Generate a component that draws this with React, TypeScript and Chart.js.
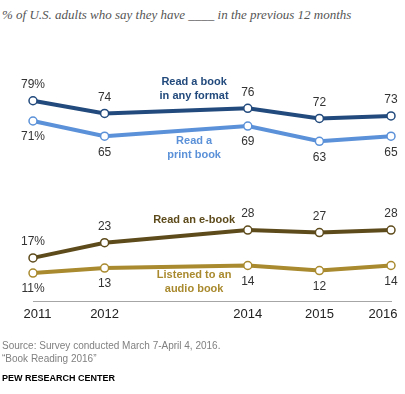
import React, { useEffect, useRef } from "react";
import { Chart, registerables } from "chart.js";

Chart.register(...registerables);

const years = [2011, 2012, 2014, 2015, 2016];
const tickLabels = ["2011", "2012", "2014", "2015", "2016"];
const anyFormat = [79, 74, 76, 72, 73];
const printBook = [71, 65, 69, 63, 65];
const eBook = [17, 23, 28, 27, 28];
const audioBook = [11, 13, 14, 12, 14];

const seriesNames = [
  ["Read a book", "in any format"],
  ["Read a", "print book"],
  ["Read an e-book"],
  ["Listened to an", "audio book"],
];

const NAVY = "#224a7c";
const LIGHT = "#5b91d8";
const OLIVE = "#5e4b1c";
const GOLD = "#a98a2e";

const FONT = "'Liberation Sans', Arial, sans-serif";

const labelPlugin = {
  id: "pewLabels",
  afterDatasetsDraw(chart: any) {
    const { ctx } = chart;
    const x = chart.scales.x;
    const y = chart.scales.y;
    ctx.save();
    // value labels
    chart.data.datasets.forEach((ds: any, di: number) => {
      const meta = chart.getDatasetMeta(di);
      meta.data.forEach((pt: any, i: number) => {
        const v = ds.values[i];
        const txt = i === 0 ? `${v}%` : `${v}`;
        const dy = ds.labelPos === "above" ? -16 : 16;
        ctx.font = `12px ${FONT}`;
        ctx.fillStyle = "#333333";
        ctx.textAlign = "center";
        ctx.textBaseline = "middle";
        ctx.fillText(txt, pt.x, pt.y + dy);
      });
    });
    // series names
    const place = [
      { lines: seriesNames[0], color: NAVY, y0: 82 },
      { lines: seriesNames[1], color: LIGHT, y0: 141 },
      { lines: seriesNames[2], color: OLIVE, y0: 220 },
      { lines: seriesNames[3], color: GOLD, y0: 275 },
    ];
    const cx = x.getPixelForValue(2013.25);
    ctx.font = `bold 11px ${FONT}`;
    ctx.textAlign = "center";
    ctx.textBaseline = "middle";
    place.forEach((p) => {
      ctx.fillStyle = p.color;
      p.lines.forEach((l: string, k: number) => {
        ctx.fillText(l, cx, p.y0 + k * 13.5);
      });
    });
    // x tick labels
    ctx.font = `13px ${FONT}`;
    ctx.fillStyle = "#222222";
    ctx.textBaseline = "middle";
    const ty = y.getPixelForValue(0) + 13;
    x.ticks.forEach((t: any, i: number) => {
      const px = x.getPixelForValue(t.value);
      let tx = px;
      ctx.textAlign = "center";
      if (i === 0) tx = px + 4.5;
      if (i === x.ticks.length - 1) tx = px - 8;
      ctx.fillText(tickLabels[i], tx, ty);
    });
    ctx.restore();
  },
};

function ds(label: string, data: number[], color: string, pos: string) {
  return {
    label,
    data: years.map((yr, i) => ({ x: yr, y: data[i] })),
    values: data,
    borderColor: color,
    backgroundColor: "#ffffff",
    borderWidth: 4,
    pointRadius: 4,
    pointBorderWidth: 1.5,
    pointBorderColor: color,
    pointBackgroundColor: "#ffffff",
    tension: 0,
    clip: false,
    labelPos: pos,
  } as any;
}

export default function App() {
  const ref = useRef<HTMLCanvasElement>(null);
  useEffect(() => {
    if (!ref.current) return;
    const chart = new Chart(ref.current, {
      type: "line",
      data: {
        datasets: [
          ds("Read a book in any format", anyFormat, NAVY, "above"),
          ds("Read a print book", printBook, LIGHT, "below"),
          ds("Read an e-book", eBook, OLIVE, "above"),
          ds("Listened to an audio book", audioBook, GOLD, "below"),
        ],
      },
      options: {
        responsive: false,
        animation: false,
        devicePixelRatio: 1,
        layout: { padding: { left: 33, right: 14, top: 47.5, bottom: 93 } },
        plugins: {
          legend: { display: false },
          tooltip: { enabled: false },
          title: { display: false },
        },
        scales: {
          x: {
            type: "linear",
            min: 2011,
            max: 2016,
            afterBuildTicks: (s: any) => {
              s.ticks = years.map((v) => ({ value: v }));
            },
            afterFit: (s: any) => {
              s.height = 0;
            },
            ticks: { display: false },
            grid: { display: false, drawTicks: false },
            border: { display: true, color: "#a6a6a6", width: 1 },
          },
          y: {
            display: false,
            min: 0,
            max: 100,
          },
        },
      },
      plugins: [labelPlugin],
    });
    return () => chart.destroy();
  }, []);

  return (
    <div
      style={{
        position: "fixed",
        left: 0,
        top: 0,
        width: 405,
        height: 394,
        background: "#ffffff",
        overflow: "hidden",
      }}
    >
      <div
        style={{
          position: "absolute",
          left: 2,
          top: 7,
          fontFamily: "'Liberation Serif', Georgia, serif",
          fontStyle: "italic",
          fontSize: 13,
          color: "#555555",
          whiteSpace: "nowrap",
          lineHeight: "16px",
        }}
      >
        % of U.S. adults who say they have ____ in the previous 12 months
      </div>
      <canvas ref={ref} width={405} height={394} style={{ position: "absolute", left: 0, top: 0 }} />
      <div
        style={{
          position: "absolute",
          left: 2,
          top: 339,
          fontFamily: FONT,
          fontSize: 10,
          color: "#808080",
          lineHeight: "13px",
          whiteSpace: "nowrap",
        }}
      >
        <div>Source: Survey conducted March 7-April 4, 2016.</div>
        <div>“Book Reading 2016”</div>
      </div>
      <div
        style={{
          position: "absolute",
          left: 2,
          top: 372,
          fontFamily: FONT,
          fontSize: 9,
          fontWeight: "bold",
          color: "#000000",
          lineHeight: "12px",
          whiteSpace: "nowrap",
        }}
      >
        PEW RESEARCH CENTER
      </div>
    </div>
  );
}
